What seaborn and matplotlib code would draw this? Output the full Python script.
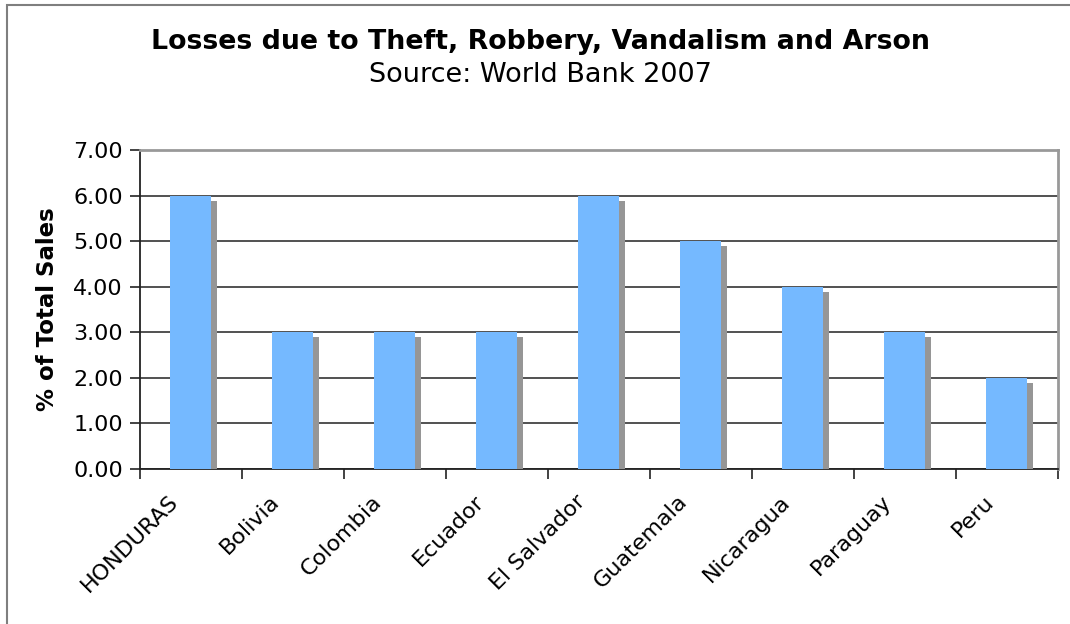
import matplotlib
import matplotlib.pyplot as plt
import matplotlib.patheffects as pe
import matplotlib.transforms as mtransforms
import pandas as pd
import seaborn as sns
from matplotlib.patches import Rectangle

matplotlib.use("Agg")

COUNTRIES = ["HONDURAS", "Bolivia", "Colombia", "Ecuador", "El Salvador",
             "Guatemala", "Nicaragua", "Paraguay", "Peru"]
LOSSES = [6.0, 3.0, 3.0, 3.0, 6.0, 5.0, 4.0, 3.0, 2.0]
Y_TICKS = [0, 1, 2, 3, 4, 5, 6, 7]

TITLE = "Losses due to Theft, Robbery, Vandalism and Arson"
SUBTITLE = "Source: World Bank 2007"
Y_LABEL = "% of Total Sales"

BAR_COLOR = "#75B9FF"
SHADOW_COLOR = "#969696"

sns.set_theme(style="white")
plt.rcParams["font.family"] = ["DejaVu Sans"]
plt.rcParams["text.color"] = "black"
plt.rcParams["xtick.color"] = "black"
plt.rcParams["ytick.color"] = "black"
plt.rcParams["axes.labelcolor"] = "black"

df = pd.DataFrame({"country": COUNTRIES, "loss": LOSSES})

fig = plt.figure(figsize=(10.7, 6.24), dpi=100)
ax = fig.add_axes([139.5 / 1070, 1 - 469 / 624, 918 / 1070, 319 / 624])

sns.barplot(data=df, x="country", y="loss", color=BAR_COLOR, width=0.4,
            saturation=1, ax=ax, zorder=3)
for bar in ax.patches:
    bar.set_edgecolor("none")
    bar.set_path_effects([
        pe.SimplePatchShadow(offset=(4.3, -3.6), shadow_rgbFace=SHADOW_COLOR, alpha=1),
        pe.Normal(),
    ])

ax.set_ylim(0, 7)
ax.set_xlim(-0.5, len(COUNTRIES) - 0.5)
ax.set_yticks(Y_TICKS)
ax.set_yticklabels([f"{v:.2f}" for v in Y_TICKS], fontsize=16)
ax.yaxis.grid(True, color="#333333", linewidth=1.2, zorder=0)
ax.set_axisbelow(True)

ax.set_xticks(range(len(COUNTRIES)))
ax.set_xticklabels(COUNTRIES, rotation=45, ha="right", rotation_mode="anchor",
                   fontsize=16)
ax.tick_params(axis="x", length=0, pad=16)
shift = mtransforms.ScaledTranslation(-23 / 100, 0, fig.dpi_scale_trans)
for label in ax.get_xticklabels():
    label.set_transform(label.get_transform() + shift)
# minor ticks at category boundaries
ax.set_xticks([i - 0.5 for i in range(len(COUNTRIES) + 1)], minor=True)
ax.tick_params(axis="x", which="minor", length=7, width=1.2, color="#222222",
               direction="out", bottom=True)
ax.tick_params(axis="y", length=7, width=1.2, color="#222222",
               direction="out", left=True, pad=5)

ax.set_xlabel("")
ax.set_ylabel(Y_LABEL, fontsize=16.5, fontweight="bold", labelpad=10)

for side in ["left", "bottom"]:
    ax.spines[side].set_color("#222222")
    ax.spines[side].set_linewidth(1.3)
for side in ["top", "right"]:
    ax.spines[side].set_color("#999999")
    ax.spines[side].set_linewidth(2)

fig.text(0.505, 1 - 42 / 624, TITLE, ha="center", va="center",
         fontsize=19.3, fontweight="bold")
fig.text(0.505, 1 - 75 / 624, SUBTITLE, ha="center", va="center", fontsize=19.5)

fig.patches.append(Rectangle((7 / 1070, -0.05), 1.1, 1 - 5 / 624 + 0.05,
                             transform=fig.transFigure, fill=False,
                             edgecolor="#7f7f7f", linewidth=1.5))

fig.savefig("out.png", dpi=100)
